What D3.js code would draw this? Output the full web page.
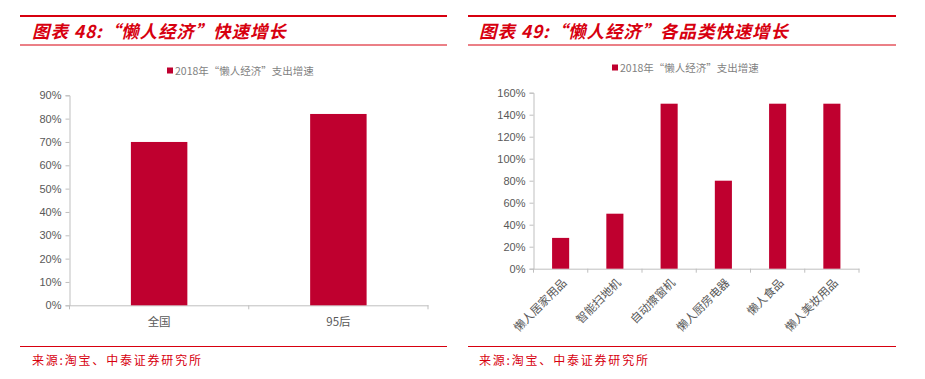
<!DOCTYPE html>
<html>
<head>
<meta charset="utf-8">
<script src="https://cdn.jsdelivr.net/npm/d3@7"></script>
<style>
body { margin: 0; background: #fff; }
svg { display: block; }
</style>
</head>
<body>
<script>
var w = 925, h = 379;
var red = "#d7000f";
var barColor = "#bf002f";
var grey = "#595959";

// chart 48
var cats48 = ["全国", "95后"];
var vals48 = [0.70, 0.82];
var ticks48 = [0, 0.1, 0.2, 0.3, 0.4, 0.5, 0.6, 0.7, 0.8, 0.9];
// chart 49
var cats49 = ["懒人居家用品", "智能扫地机", "自动擦窗机", "懒人厨房电器", "懒人食品", "懒人美妆用品"];
var vals49 = [0.28, 0.50, 1.50, 0.80, 1.50, 1.50];
var ticks49 = [0, 0.2, 0.4, 0.6, 0.8, 1.0, 1.2, 1.4, 1.6];

var titles = ["图表 48:“懒人经济”快速增长", "图表 49:“懒人经济”各品类快速增长"];
var legendText = "2018年“懒人经济”支出增速";
var sourceText = "来源:淘宝、中泰证券研究所";

var svg = d3.select("body").append("svg")
    .attr("width", w)
    .attr("height", h);

function frame(x0, x1, title, tx) {
    var g = svg.append("g");
    g.append("line").attr("x1", x0).attr("x2", x1).attr("y1", 16).attr("y2", 16)
        .style("stroke", red).style("stroke-width", 2.2);
    g.append("line").attr("x1", x0).attr("x2", x1).attr("y1", 45).attr("y2", 45)
        .style("stroke", red).style("stroke-width", 1);
    g.append("text").attr("x", tx).attr("y", 38)
        .text(title)
        .style("font-family", "'Noto Sans CJK SC', sans-serif")
        .style("font-size", "17.5px")
        .style("font-weight", "bold")
        .style("font-style", "italic")
        .style("letter-spacing", "0.9px")
        .style("fill", red);
    g.append("line").attr("x1", x0).attr("x2", x1).attr("y1", 346.5).attr("y2", 346.5)
        .style("stroke", red).style("stroke-width", 1);
    g.append("text").attr("x", tx).attr("y", 365)
        .text(sourceText)
        .style("font-family", "'Noto Sans CJK SC', serif")
        .style("font-size", "12px")
        .style("letter-spacing", "1.8px")
        .style("fill", red);
}

function legend(x, y) {
    svg.append("rect").attr("x", x).attr("y", y - 3.5).attr("width", 6).attr("height", 6)
        .style("fill", barColor);
    svg.append("text").attr("x", x + 8).attr("y", y + 3.5)
        .text(legendText)
        .style("font-family", "'Noto Sans CJK SC', serif")
        .style("font-size", "10.5px")
        .style("fill", "#7f7f7f");
}

function barChart(cats, vals, ticks, left, right, top, bottom, maxV, rotate) {
    var x = d3.scaleBand().domain(cats).range([left, right]).paddingInner(0.685).paddingOuter(0.3425);
    var y = d3.scaleLinear().domain([0, maxV]).range([bottom, top]);
    var g = svg.append("g");

    var ya = d3.axisLeft(y).tickValues(ticks).tickFormat(d3.format(".0%")).tickSize(4).tickPadding(4);
    var yg = g.append("g").attr("transform", "translate(" + left + ",0)").call(ya);
    yg.select(".domain").style("stroke", "#bfbfbf");
    yg.selectAll(".tick line").style("stroke", "#bfbfbf");
    yg.selectAll("text").style("font-family", "'Liberation Sans', Arial, sans-serif")
        .style("font-size", "11px").style("fill", grey);

    // category separators on x axis
    var xa = d3.axisBottom(x).tickSize(0).tickPadding(8);
    var xg = g.append("g").attr("transform", "translate(0," + bottom + ")").call(xa);
    xg.select(".domain").style("stroke", "#bfbfbf");
    var bounds = d3.range(cats.length + 1).map(function(i){ return left + i * x.step(); });
    xg.selectAll(".sep").data(bounds).enter().append("line")
        .attr("x1", function(d){ return d; }).attr("x2", function(d){ return d; })
        .attr("y1", 0).attr("y2", 4)
        .style("stroke", "#bfbfbf");
    var labels = xg.selectAll(".tick text")
        .style("font-family", "'Noto Sans CJK SC', sans-serif")
        .style("font-size", "11.5px").style("fill", grey);
    if (rotate) {
        labels.attr("text-anchor", "end")
            .attr("dy", "0.35em")
            .attr("transform", "translate(4,12) rotate(-45)")
            .attr("y", 0).attr("x", 0);
    } else {
        labels.attr("dy", "1.1em");
    }

    g.selectAll(".bar").data(vals).enter().append("rect")
        .attr("x", function(d, i){ return x(cats[i]); })
        .attr("y", function(d){ return y(d); })
        .attr("width", x.bandwidth())
        .attr("height", function(d){ return bottom - y(d); })
        .style("fill", barColor);
}

frame(20, 447, titles[0], 32);
frame(468, 896, titles[1], 479);
legend(167, 71);
legend(612, 68);
barChart(cats48, vals48, ticks48, 69.5, 428, 95.3, 305.3, 0.9, false);
barChart(cats49, vals49, ticks49, 533.5, 859, 92.7, 268.7, 1.6, true);
</script>
</body>
</html>
